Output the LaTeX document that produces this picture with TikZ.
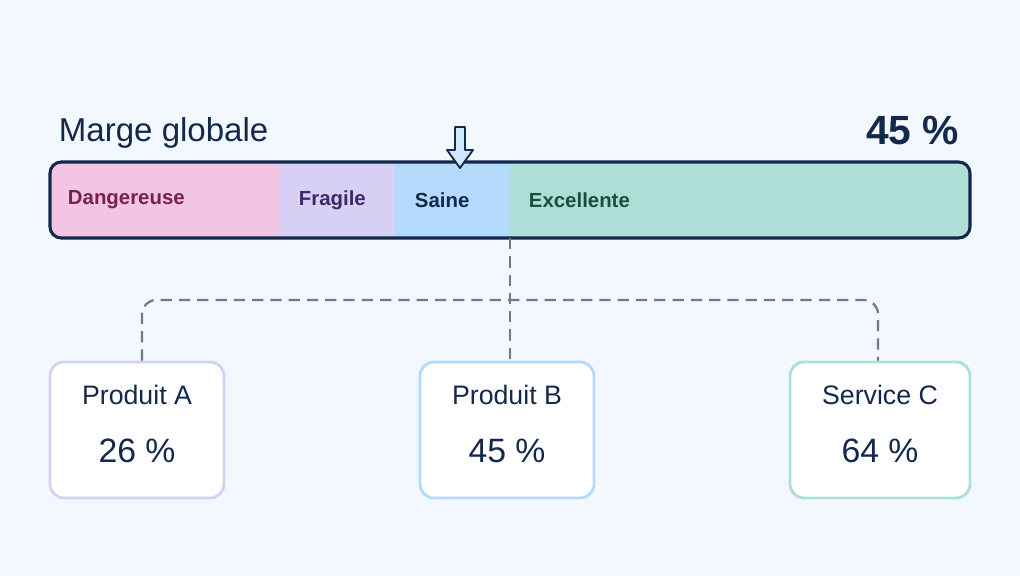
\documentclass[tikz,border=0pt]{standalone}
\usepackage{fontspec}
\setmainfont{Liberation Sans}
\definecolor{bgc}{HTML}{F3F8FE}
\definecolor{ink}{HTML}{13294B}
\definecolor{pinkz}{HTML}{F2C6E2}
\definecolor{lavz}{HTML}{D8CFF5}
\definecolor{bluez}{HTML}{B3DAFB}
\definecolor{greenz}{HTML}{AEDFD6}
\definecolor{dashc}{HTML}{6B7A8C}
\definecolor{dangc}{HTML}{7A1F4F}
\definecolor{fragc}{HTML}{3B2A6B}
\definecolor{excc}{HTML}{1E4D3F}
\begin{document}
\begin{tikzpicture}[x=0.025cm,y=-0.025cm,
    zonelabel/.style ={anchor=west, font=\fontsize{14.5}{17}\selectfont\bfseries},
    prodbox/.style ={draw, line width=2pt, fill=white, rounded corners=10pt, minimum width=4.35cm, minimum height=3.4cm},
    link/.style ={dashc, line width=1.6pt, dash pattern=on 8pt off 5pt}]
   \fill[bgc] (0,0) rectangle (1020,576);
   % zones of the bar
   \begin{scope}
     \clip[rounded corners=8pt] (50,162) rectangle (970,238);
     \fill[pinkz] (50,162) rectangle (280,238);
     \fill[lavz] (280,162) rectangle (395,238);
     \fill[bluez] (395,162) rectangle (510,238);
     \fill[greenz] (510,162) rectangle (970,238);
   \end{scope}
   \draw[ink, line width=2.2pt, rounded corners=8pt] (50,162) rectangle (970,238);
   \node[zonelabel, text=dangc] (dang) at (63,200) {Dangereuse};
   \node[zonelabel, text=fragc] (frag) at (294,200) {Fragile};
   \node[zonelabel, text=ink] (sain) at (410,200) {Saine};
   \node[zonelabel, text=excc] (exc) at (524,200) {Excellente};
   \node[anchor=west, text=ink, font=\fontsize{23.5}{28}\selectfont] (title) at (54,133) {Marge globale};
   \node[anchor=east, text=ink, font=\fontsize{29}{34}\selectfont\bfseries] (total) at (964,131) {45 \%};
   % marker
   \draw[ink, fill=bluez!60!white, line width=1.3pt, line join=round]
     (455,127) -- (465,127) -- (465,150) -- (473,150) -- (460,168) -- (447,150) -- (455,150) -- cycle;
   % products
   \node[prodbox, draw=lavz] (pa) at (137,430) {};
   \node[prodbox, draw=bluez] (pb) at (507,430) {};
   \node[prodbox, draw=greenz, minimum width=4.5cm] (pc) at (880,430) {};
   \foreach \n/\a/\b in {pa/Produit A/26, pb/Produit B/45, pc/Service C/64} {
     \node[text=ink, font=\fontsize{19}{22}\selectfont] at ([yshift=-0.85cm]\n.north) {\a};
     \node[text=ink, font=\fontsize{24}{28}\selectfont] at ([yshift=-2.25cm]\n.north) {\b\ \%};
   }
   \coordinate (split) at (510,238);
   \draw[link] (split) -- (pb.north -| split);
   \draw[link, rounded corners=10pt] (pa.north -| 142,0) -- (142,300) -- (878,300) -- (pc.north -| 878,0);
 \end{tikzpicture}
\end{document}
